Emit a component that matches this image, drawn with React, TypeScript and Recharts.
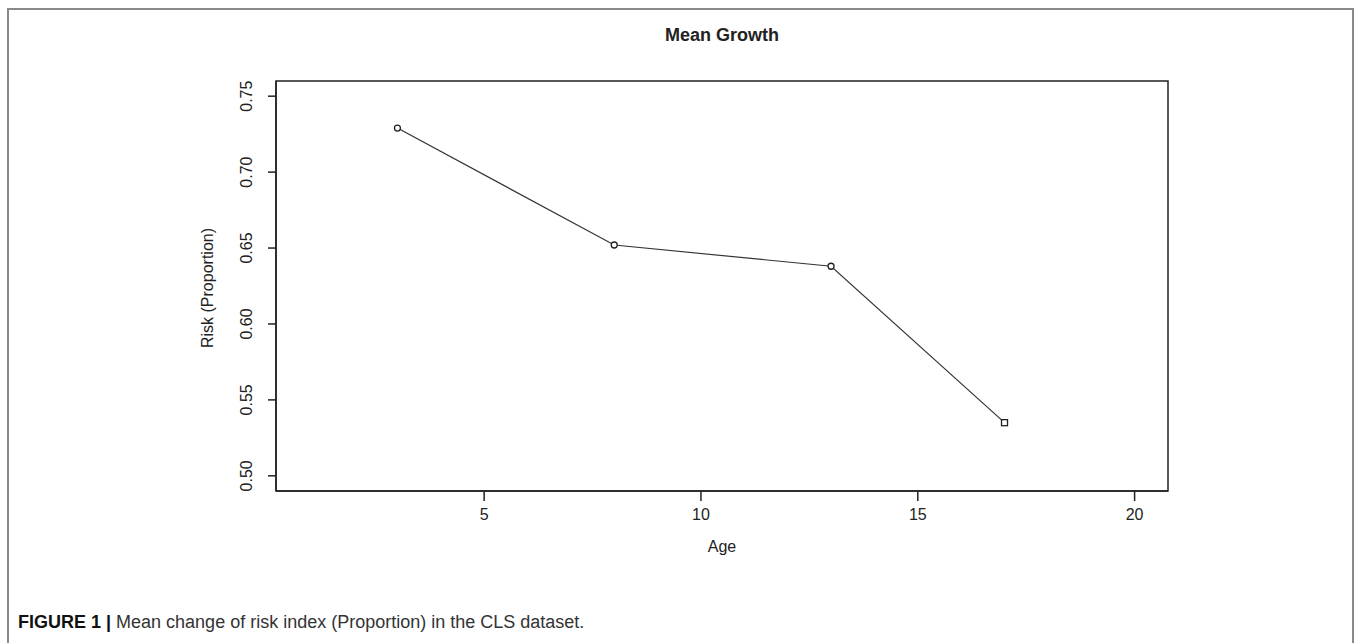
import { Line, LineChart, ReferenceArea, XAxis, YAxis } from "recharts";

const ages = [3, 8, 13, 17];
const risk = [0.729, 0.652, 0.638, 0.535];
const xTicks = [5, 10, 15, 20];
const yTicks = [0.5, 0.55, 0.6, 0.65, 0.7, 0.75];

const data = ages.map((age, i) => ({ age, risk: risk[i] }));

const xDomain: [number, number] = [0.2, 20.77];
const yDomain: [number, number] = [0.49, 0.76];

const font = "'Liberation Sans', Arial, sans-serif";
const ink = "#222";

function RotTick(props: any) {
  const { y, payload } = props;
  const cx = 246;
  return (
    <text
      x={cx}
      y={y}
      dy="0.35em"
      textAnchor="middle"
      transform={`rotate(-90, ${cx}, ${y})`}
      fontSize={16}
      fontFamily={font}
      fill={ink}
    >
      {payload.value.toFixed(2)}
    </text>
  );
}

function Marker(props: any) {
  const { cx, cy, index } = props;
  if (index === ages.length - 1) {
    return <rect key={index} x={cx - 3} y={cy - 3} width={6} height={6} fill="#fff" stroke={ink} strokeWidth={1.3} />;
  }
  return <circle key={index} cx={cx} cy={cy} r={3} fill="#fff" stroke={ink} strokeWidth={1.3} />;
}

export default function App() {
  return (
    <div style={{ position: "absolute", left: 0, top: 0, width: 1360, height: 643, background: "#fff", overflow: "hidden" }}>
      <div
        style={{
          position: "absolute",
          left: 7,
          top: 8,
          width: 1347,
          height: 660,
          border: "2px solid #8a8a8a",
          boxSizing: "border-box",
        }}
      />
      <div
        style={{
          position: "absolute",
          left: 0,
          width: 1444,
          top: 25,
          textAlign: "center",
          fontFamily: font,
          fontWeight: "bold",
          fontSize: 18,
          color: ink,
        }}
      >
        Mean Growth
      </div>
      <div
        style={{
          position: "absolute",
          left: 0,
          width: 1444,
          top: 538,
          textAlign: "center",
          fontFamily: font,
          fontSize: 16,
          color: ink,
        }}
      >
        Age
      </div>
      <div
        style={{
          position: "absolute",
          left: 208,
          top: 288,
          transform: "translate(-50%, -50%) rotate(-90deg)",
          fontFamily: font,
          fontSize: 16,
          color: ink,
          whiteSpace: "nowrap",
        }}
      >
        Risk (Proportion)
      </div>
      <div
        style={{
          position: "absolute",
          left: 18,
          top: 612,
          fontFamily: font,
          fontSize: 18,
          color: "#333",
          whiteSpace: "nowrap",
        }}
      >
        <b style={{ color: "#111" }}>FIGURE 1 |</b> Mean change of risk index (Proportion) in the CLS dataset.
      </div>
      <div style={{ position: "absolute", left: 0, top: 0 }}>
        <LineChart width={1360} height={643} data={data} margin={{ top: 81, right: 192, bottom: 92, left: 216 }}>
          <XAxis
            dataKey="age"
            type="number"
            domain={xDomain}
            ticks={xTicks}
            height={60}
            tickSize={10}
            tickMargin={8}
            stroke={ink}
            strokeWidth={1.5}
            tick={{ fontSize: 16, fontFamily: font, fill: ink }}
            allowDataOverflow
          />
          <YAxis
            type="number"
            domain={yDomain}
            ticks={yTicks}
            width={60}
            tickSize={8}
            tickMargin={2}
            stroke={ink}
            strokeWidth={1.5}
            tick={<RotTick />}
            allowDataOverflow
          />
          <ReferenceArea
            x1={xDomain[0]}
            x2={xDomain[1]}
            y1={yDomain[0]}
            y2={yDomain[1]}
            fill="none"
            stroke={ink}
            strokeWidth={1.5}
            ifOverflow="visible"
          />
          <Line
            dataKey="risk"
            stroke="#333"
            strokeWidth={1.2}
            dot={<Marker />}
            activeDot={false}
            isAnimationActive={false}
          />
        </LineChart>
      </div>
    </div>
  );
}
